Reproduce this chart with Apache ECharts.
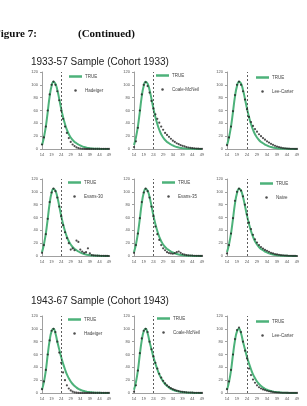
<!DOCTYPE html>
<html>
<head>
<meta charset="utf-8">
<script src="https://cdn.jsdelivr.net/npm/echarts@6/dist/echarts.min.js"></script>
<style>
  html, body { margin: 0; padding: 0; background: #fff; }
  #chart { width: 307px; height: 406px; }
</style>
</head>
<body>
<div id="chart"></div>
<script>
// ages on the x axis
const ages = ['14','15','16','17','18','19','20','21','22','23','24','25','26','27','28','29','30','31',
  '32','33','34','35','36','37','38','39','40','41','42','43','44','45','46','47','48','49'];

// cohort 1933 true rates
const true1933 = [6,18,35,58,82,98,105,102,92,78,63,50,39,30,23,18,14,11,9,7,5.5,4,3,2.2,1.6,1.1,0.8,0.5,0.4,0.3,0.2,0.15,0.1,0.05,0.03,0.02];
const hadeiger1933 = [7,18,35,60,85,100,105,100,90,76,60,47,35,25,17,11,7,4.5,2.5,1.5,0.8,0.4,0.2,0.1,0.1,0.1,0.1,0.1,0.1,0.1,0.1,0.1,0.1,0.1,0.1,0.1];
const coale1933 = [3,12,33,60,85,100,104,98,88,75,63,54,47,41,35,30,25,22,19,16,13,11,9,7.5,6,5,4,3,2.3,1.8,1.3,1,0.7,0.5,0.3,0.2];
const lee1933 = [6,18,35,59,84,100,105,100,90,77,62,50,42,36,31,27,23,20,17,14.5,12,10,8,6.5,5,3.8,2.8,2,1.4,1,0.7,0.5,0.3,0.2,0.1,0.05];
const evans30 = [5,17,34,58,84,99,105,101,91,77,62,48,37,28,20,10,12,9,24,22,10,7,5,6,12,4,1.5,1,0.8,0.5,0.4,0.3,0.2,0.1,0.1,0];
const evans35 = [5,17,35,59,84,99,105,101,91,77,62,46,34,25,17,12,9,6,4.5,4,3.5,4.5,6,7,5,3,2,1.5,1,0.8,0.6,0.4,0.3,0.2,0.1,0.1];
const naive1933 = [4,17,35,59,86,100,105,102,93,80,65,52,42,33,26,21,17,14,11.5,9.5,8,6.5,5,4,3,2.4,1.8,1.3,1,0.7,0.5,0.3,0.2,0.1,0.1,0];

// cohort 1943 true rates
const true1943 = [5,17,35,60,82,96,100,93,80,68,56,46,37,29,23,18,14,11,8.5,6.5,5,4,3,2.3,1.7,1.3,1,0.7,0.5,0.35,0.25,0.15,0.1,0.05,0.03,0.02];
const hadeiger1943 = [6,18,36,60,82,97,100,95,80,63,47,32,20,12,7,4,2,1,0.5,0.2,0.1,0.1,0.1,0.1,0.1,0.1,0.1,0.1,0.1,0.1,0.1,0.1,0.1,0.1,0.1,0.1];
const coale1943 = [2,12,35,62,85,97,100,95,80,68,57,47,38,30,24,19,15,12,9.5,7.5,6,4.8,3.8,3,2.3,1.8,1.4,1.1,0.8,0.6,0.45,0.35,0.25,0.2,0.1,0.1];
const lee1943 = [6,18,36,60,84,98,102,95,80,66,54,38,28,21,16,12,9,7,5.5,4.5,3.5,2.7,2,1.5,1.1,0.8,0.6,0.4,0.3,0.2,0.15,0.1,0.05,0.05,0.05,0.05];

const panels = [
  { truth: true1933, name: 'Hadeiger', model: hadeiger1933 },
  { truth: true1933, name: 'Coale-McNeil', model: coale1933 },
  { truth: true1933, name: 'Lee-Carter', model: lee1933 },
  { truth: true1933, name: 'Evans-30', model: evans30 },
  { truth: true1933, name: 'Evans-35', model: evans35 },
  { truth: true1933, name: 'Naive', model: naive1933 },
  { truth: true1943, name: 'Hadeiger', model: hadeiger1943 },
  { truth: true1943, name: 'Coale-McNeil', model: coale1943 },
  { truth: true1943, name: 'Lee-Carter', model: lee1943 }
];

// layout of the 3x3 small multiples
const colLeft = [42, 134, 227];
const colWidth = [67, 68, 70];
const rowTop = [72, 179, 316];
const legendLeft = [[69, 156, 256], [68, 162, 260], [68, 157, 256]];
const legendTop = [[74, 73, 75], [180, 180, 181], [317, 316, 319]];

const green = '#4db27a';
const grids = [], xAxes = [], yAxes = [], series = [], legends = [];

panels.forEach((p, i) => {
  const r = Math.floor(i / 3), c = i % 3;
  grids.push({ left: colLeft[c], top: rowTop[r], width: colWidth[c], height: 77 });
  xAxes.push({
    type: 'category', gridIndex: i, data: ages, boundaryGap: false,
    axisLine: { lineStyle: { color: '#888', width: 0.8 } },
    axisTick: { show: false },
    axisLabel: { interval: 4, fontSize: 4, color: '#555', margin: 4, fontFamily: 'Liberation Sans' },
    splitLine: { show: false }
  });
  yAxes.push({
    type: 'value', gridIndex: i, min: 0, max: 120, interval: 20,
    axisLine: { show: true, lineStyle: { color: '#888', width: 0.8 } },
    axisTick: { show: true, length: 2, lineStyle: { color: '#888', width: 0.8 } },
    axisLabel: { fontSize: 4, color: '#555', margin: 4, fontFamily: 'Liberation Sans' },
    splitLine: { show: false }
  });
  series.push({
    name: 'TRUE', type: 'line', xAxisIndex: i, yAxisIndex: i, data: p.truth,
    smooth: true, showSymbol: false, color: green,
    lineStyle: { width: 2, color: green },
    markLine: {
      silent: true, symbol: ['none', 'none'], label: { show: false },
      lineStyle: { type: [2, 2], color: '#333', width: 0.8 },
      data: [{ xAxis: '24' }]
    }
  });
  series.push({
    name: p.name, type: 'scatter', xAxisIndex: i, yAxisIndex: i, data: p.model,
    symbolSize: 2.2, itemStyle: { color: '#222' }, z: 5
  });
  legends.push({
    orient: 'vertical', left: legendLeft[r][c], top: legendTop[r][c], padding: 0,
    itemWidth: 13, itemHeight: 2.5, itemGap: 9,
    textStyle: { fontSize: 4.5, color: '#444', fontFamily: 'Liberation Sans', padding: [0, 0, 0, -2] },
    data: [{ name: 'TRUE', icon: 'rect' }, { name: p.name, icon: 'circle' }]
  });
});

const chart = echarts.init(document.getElementById('chart'));
chart.setOption({
  animation: false,
  backgroundColor: '#fff',
  title: [
    { text: '(Continued)', left: 78, top: 29, padding: 0, textStyle: { fontFamily: 'Liberation Serif', fontWeight: 'bold', fontSize: 11, color: '#111' } },
    { text: '1933-57 Sample (Cohort 1933)', left: 31, top: 57, padding: 0, textStyle: { fontFamily: 'Liberation Sans', fontWeight: 'normal', fontSize: 10, color: '#222' } },
    { text: '1943-67 Sample (Cohort 1943)', left: 31, top: 296, padding: 0, textStyle: { fontFamily: 'Liberation Sans', fontWeight: 'normal', fontSize: 10, color: '#222' } }
  ],
  graphic: [
    { type: 'text', x: -6, y: 29, style: { text: 'Figure 7:', font: 'bold 11px "Liberation Serif"', fill: '#111' } }
  ],
  legend: legends,
  grid: grids,
  xAxis: xAxes,
  yAxis: yAxes,
  series: series
});
</script>
</body>
</html>
